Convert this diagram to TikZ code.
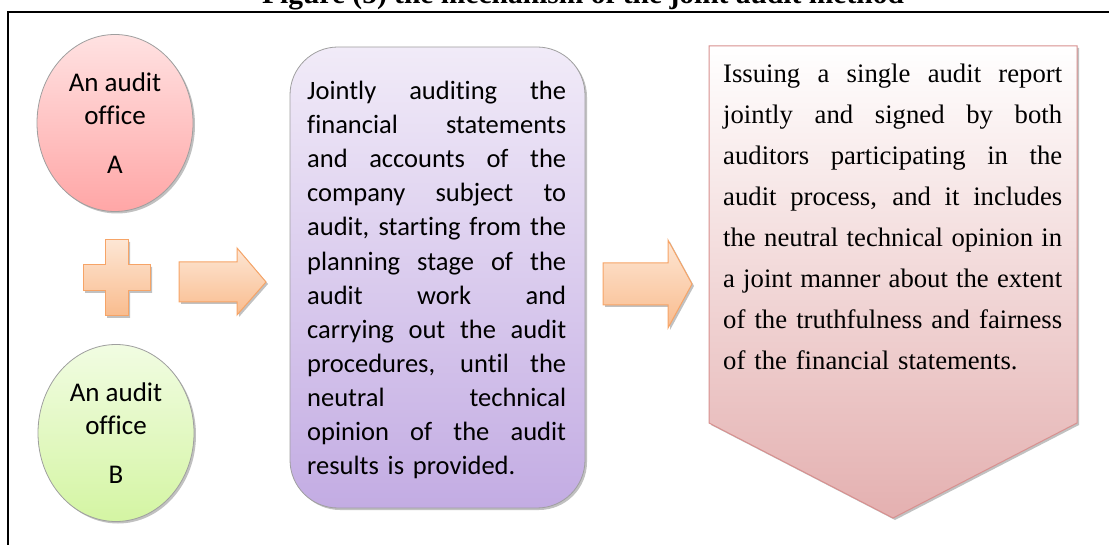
\documentclass[tikz,border=0pt]{standalone}
\usepackage{fontspec}
\setmainfont{Liberation Serif}
\newfontfamily\carlito[RawFeature={-liga;-clig;-dlig;-calt}]{Carlito}
\usetikzlibrary{shapes.geometric,shadows}
\definecolor{pinkTop}{HTML}{FFE2E2}
\definecolor{pinkBot}{HTML}{FFA6A6}
\definecolor{greenTop}{HTML}{F1FCE2}
\definecolor{greenBot}{HTML}{D4F5A3}
\definecolor{lavTop}{HTML}{F1EBF8}
\definecolor{lavBot}{HTML}{C3ACE3}
\definecolor{repBot}{HTML}{E4B0B0}
\definecolor{repEdge}{HTML}{D8908F}
\definecolor{orTop}{HTML}{FDE6D4}
\definecolor{orBot}{HTML}{F9BC8E}
\definecolor{orEdge}{HTML}{F6A467}
\newdimen\jwidth
\newcommand{\jline}[1]{\noindent\hbox to \jwidth{\spaceskip=0.25em plus 10em minus 0.1em #1}\par}
\newcommand{\lastline}[1]{\noindent\hbox{#1}\par}
\begin{document}
\begin{tikzpicture}[x=1pt,y=-1pt,
  shade/.style={drop shadow={shadow xshift=2pt,shadow yshift=-2pt,opacity=0.35,fill=black!70}},
  office/.style={ellipse, draw=gray!75, line width=0.8pt, minimum width=156pt, minimum height=177pt,
    inner sep=0pt, align=center, font=\carlito\fontsize{27}{33}\selectfont, shade},
  blockarrow/.style={draw=orEdge, line width=1pt, top color=orTop, bottom color=orBot, shade},
  frame/.style={line width=2.4pt, line cap=rect}]
\useasboundingbox (0,0) rectangle (1109,545);

% title (clipped by the page edge)
\node[anchor=base, inner sep=0pt, font=\bfseries\fontsize{29.5}{34}\selectfont] (title) at (583,4)
  {Figure (5) the mechanism of the joint audit method};

% frame
\coordinate (fbl) at (8,560);
\coordinate (ftl) at (8,12);
\coordinate (ftr) at (1125,12);
\draw[frame] (fbl) -- (ftl) -- (ftr);

% offices
\node[office, top color=pinkTop, bottom color=pinkBot] (A) at (115,123) {An audit\\office\\[16pt]A};
\node[office, top color=greenTop, bottom color=greenBot] (B) at (116,433) {An audit\\office\\[16pt]B};

% plus sign
\path[blockarrow] (105,240) -- (128,240) -- (128,265) -- (150,265) -- (150,291) -- (128,291)
  -- (128,316) -- (105,316) -- (105,291) -- (83,291) -- (83,265) -- (105,265) -- cycle;

% arrow 1
\path[blockarrow] (179,262) -- (237,262) -- (237,248) -- (266,282) -- (237,315) -- (237,302)
  -- (179,302) -- cycle;

% joint audit box
\node[draw=gray!75, line width=0.8pt, rounded corners=48pt, top color=lavTop, bottom color=lavBot, shade,
  minimum width=295pt, minimum height=461pt, inner sep=0pt] (joint) at (437.5,277.5) {};
\node[anchor=north west, inner sep=0pt, text width=259pt,
  font=\carlito\fontsize{26.5}{34.1}\selectfont] (jointtext) at (307,81)
  {\jwidth=259pt
  \jline{Jointly auditing the}\jline{financial statements}\jline{and accounts of the}%
  \jline{company subject to}\jline{audit, starting from the}\jline{planning stage of the}%
  \jline{audit work and}\jline{carrying out the audit}\jline{procedures, until the}%
  \jline{neutral technical}\jline{opinion of the audit}\lastline{results is provided.}};

% arrow 2
\path[blockarrow] (603,263) -- (668,263) -- (668,240) -- (692,284) -- (668,328) -- (668,305)
  -- (603,305) -- cycle;

% report shape
\path[draw=repEdge, line width=1pt, top color=white, bottom color=repBot, shade]
  (709,46) -- (1077,46) -- (1077,423) -- (893,518) -- (709,423) -- cycle;
\node[anchor=north west, inner sep=0pt, text width=339pt,
  font=\fontsize{26.7}{41}\selectfont] (report) at (723,64)
  {\jwidth=339pt
  \jline{Issuing a single audit report}\jline{jointly and signed by both}%
  \jline{auditors participating in the}\jline{audit process, and it includes}%
  \jline{the neutral technical opinion in}\jline{a joint manner about the extent}%
  \jline{of the truthfulness and fairness}\lastline{of the financial statements.}};
\end{tikzpicture}
\end{document}
